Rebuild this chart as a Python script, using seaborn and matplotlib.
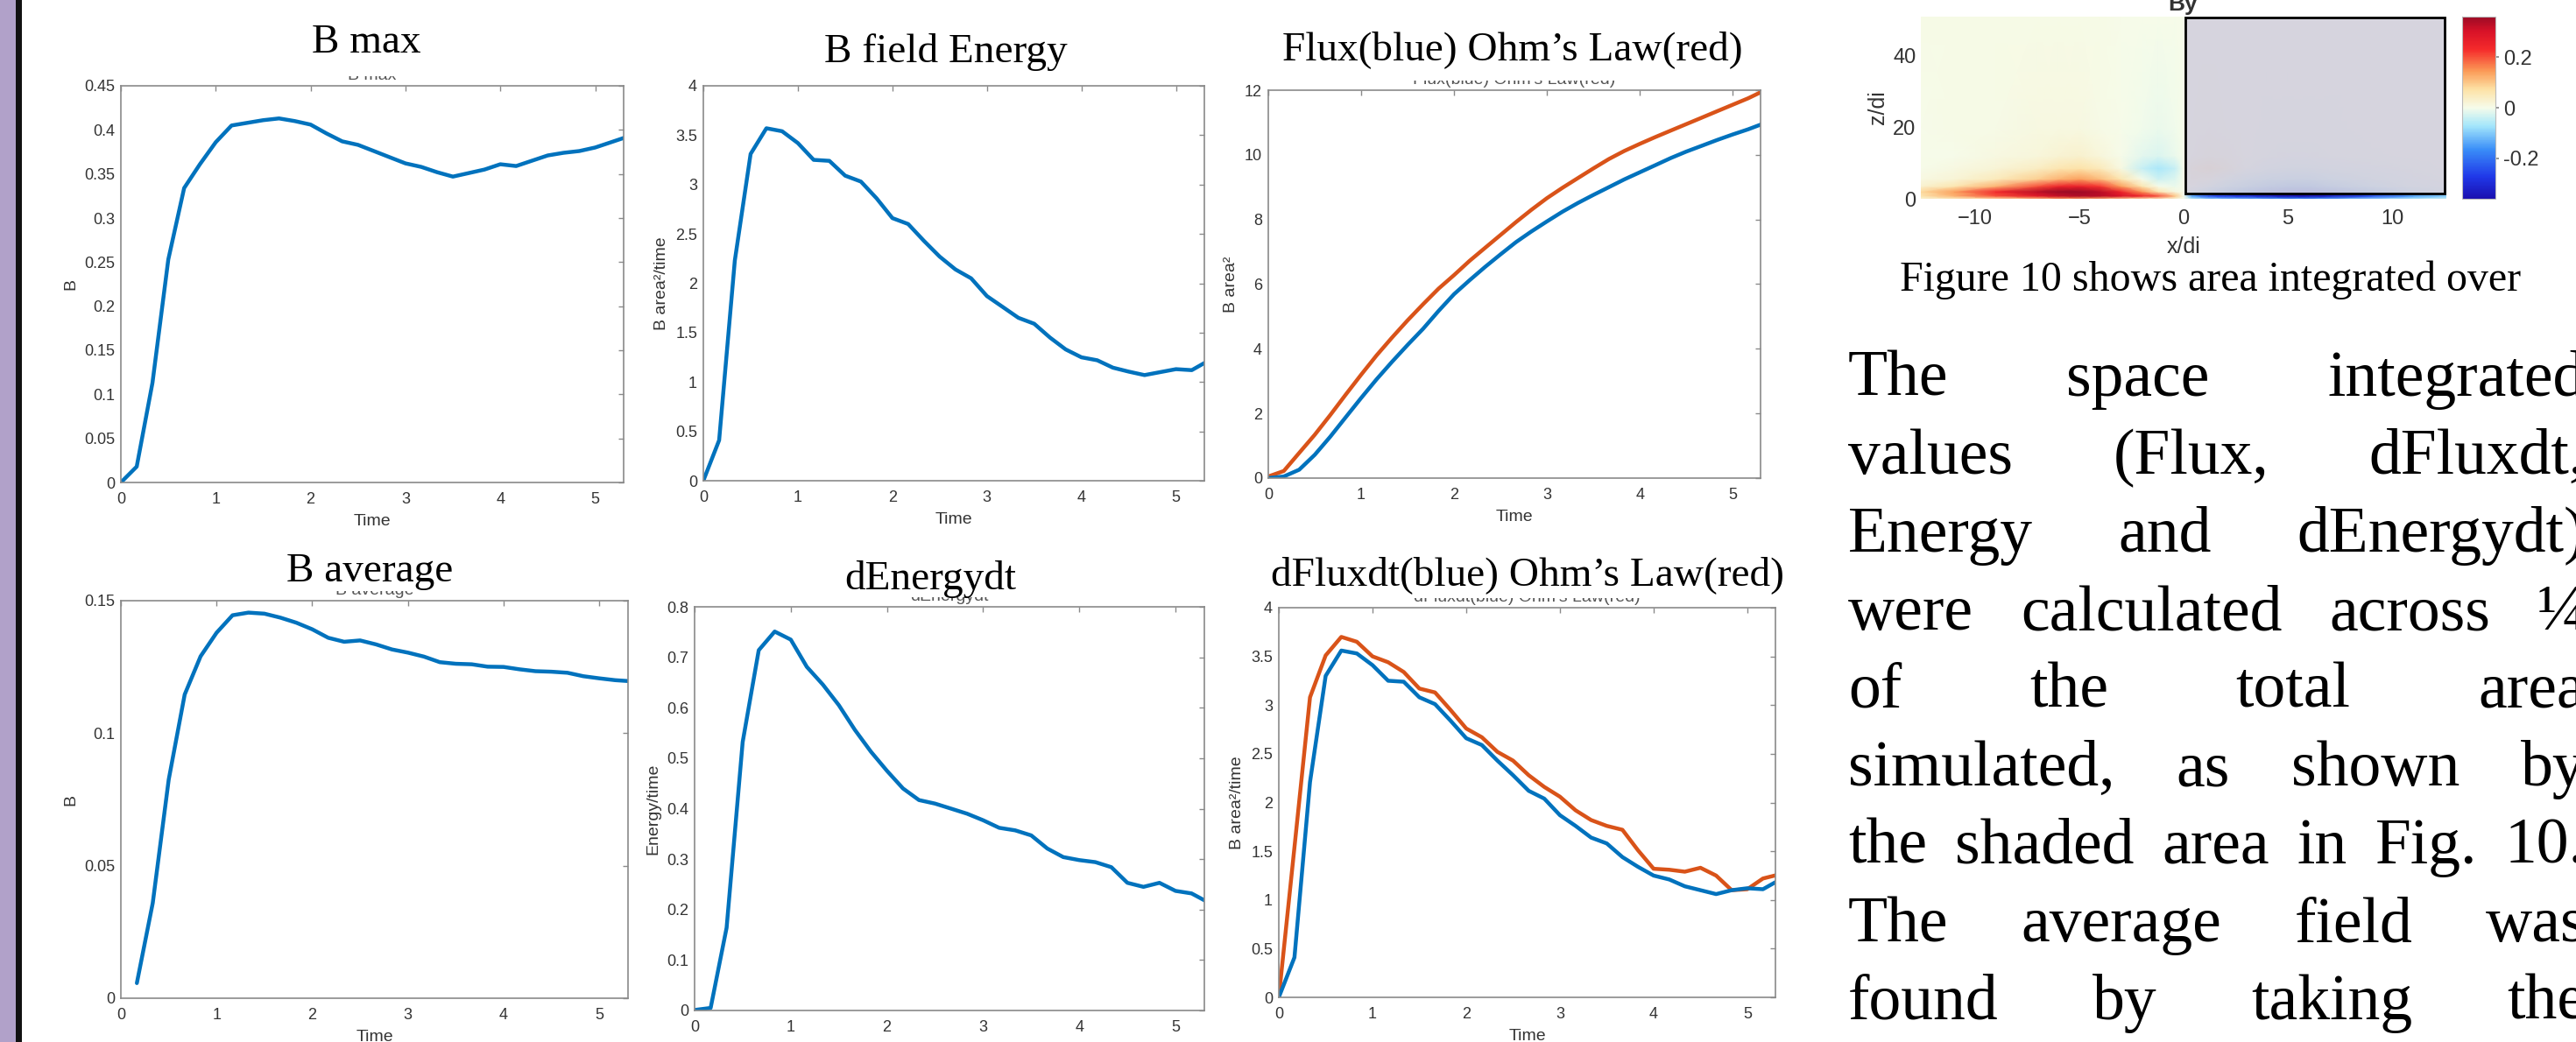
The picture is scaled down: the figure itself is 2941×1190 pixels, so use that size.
import numpy as np
import matplotlib
matplotlib.use("Agg")
import matplotlib.pyplot as plt
import seaborn as sns
from matplotlib.colors import LinearSegmentedColormap
from matplotlib.patches import Rectangle
from matplotlib.ticker import FuncFormatter
from matplotlib.transforms import Bbox, TransformedBbox

W, H, DPI = 2941, 1190, 100

# ─── Time series (sampled every 1/6 time unit) ───────────────────────────────
time = [0.0, 0.167, 0.333, 0.5, 0.667, 0.833, 1.0, 1.167, 1.333, 1.5, 1.667,
        1.833, 2.0, 2.167, 2.333, 2.5, 2.667, 2.833, 3.0, 3.167, 3.333, 3.5,
        3.667, 3.833, 4.0, 4.167, 4.333, 4.5, 4.667, 4.833, 5.0, 5.167, 5.333]

b_max = [0.0, 0.018, 0.113, 0.253, 0.334, 0.361, 0.386, 0.405, 0.408, 0.411,
         0.413, 0.410, 0.406, 0.396, 0.387, 0.383, 0.376, 0.369, 0.362, 0.358,
         0.352, 0.347, 0.351, 0.355, 0.361, 0.359, 0.365, 0.371, 0.374, 0.376,
         0.380, 0.386, 0.392]

b_energy = [0.0, 0.41, 2.23, 3.31, 3.57, 3.54, 3.42, 3.25, 3.24, 3.09, 3.03,
            2.86, 2.66, 2.60, 2.43, 2.27, 2.14, 2.05, 1.87, 1.76, 1.65, 1.59,
            1.45, 1.33, 1.25, 1.22, 1.145, 1.105, 1.07, 1.10, 1.13, 1.12, 1.21]

flux_blue = [0.0, 0.05, 0.26, 0.72, 1.28, 1.88, 2.48, 3.06, 3.60, 4.12, 4.62,
             5.17, 5.69, 6.12, 6.53, 6.92, 7.30, 7.63, 7.94, 8.24, 8.51, 8.76,
             9.00, 9.24, 9.46, 9.68, 9.90, 10.10, 10.28, 10.46, 10.63, 10.79,
             10.97]

flux_red = [0.05, 0.22, 0.78, 1.34, 1.95, 2.58, 3.20, 3.80, 4.35, 4.88, 5.38,
            5.86, 6.28, 6.72, 7.12, 7.52, 7.92, 8.30, 8.66, 8.98, 9.28, 9.58,
            9.87, 10.12, 10.34, 10.55, 10.75, 10.95, 11.15, 11.35, 11.55, 11.75,
            11.98]

b_avg = [np.nan, 0.0057, 0.0359, 0.0825, 0.1146, 0.129, 0.1379, 0.1445, 0.1455,
         0.1451, 0.1436, 0.1417, 0.1392, 0.136, 0.1345, 0.135, 0.1335, 0.1316,
         0.1304, 0.1289, 0.1268, 0.1262, 0.126, 0.1251, 0.125, 0.1241, 0.1234,
         0.1232, 0.1228, 0.1215, 0.1207, 0.120, 0.1196]

d_energy = [0.001, 0.005, 0.164, 0.532, 0.714, 0.751, 0.735, 0.681, 0.646,
            0.605, 0.556, 0.513, 0.475, 0.44, 0.417, 0.41, 0.40, 0.39, 0.377,
            0.362, 0.357, 0.347, 0.321, 0.304, 0.298, 0.294, 0.284, 0.253,
            0.245, 0.253, 0.237, 0.232, 0.215]

dflux_blue = [0.0, 0.41, 2.21, 3.30, 3.56, 3.53, 3.41, 3.25, 3.24, 3.08, 3.01,
              2.84, 2.66, 2.59, 2.43, 2.28, 2.12, 2.04, 1.87, 1.76, 1.64, 1.58,
              1.44, 1.34, 1.25, 1.21, 1.14, 1.10, 1.06, 1.10, 1.12, 1.11, 1.20]

dflux_red = [0.0, 1.54, 3.08, 3.51, 3.70, 3.65, 3.50, 3.44, 3.34, 3.17, 3.13,
             2.95, 2.76, 2.67, 2.52, 2.43, 2.28, 2.16, 2.06, 1.92, 1.82, 1.76,
             1.72, 1.51, 1.32, 1.31, 1.29, 1.33, 1.25, 1.10, 1.11, 1.22, 1.26]

x_ticks = [0, 1, 2, 3, 4, 5]
yticks_bmax = [0, 0.05, 0.1, 0.15, 0.2, 0.25, 0.3, 0.35, 0.4, 0.45]
yticks_energy = [0, 0.5, 1, 1.5, 2, 2.5, 3, 3.5, 4]
yticks_flux = [0, 2, 4, 6, 8, 10, 12]
yticks_bavg = [0, 0.05, 0.1, 0.15]
yticks_denergy = [0, 0.1, 0.2, 0.3, 0.4, 0.5, 0.6, 0.7, 0.8]

# ─── By field snapshot, coarse grid ──────────────────────────────────────────
hm_x = [-12.6, -11, -9, -7, -6, -5, -4, -3, -2, -1.2, -0.4, 0,
        0.4, 1.2, 2, 3, 4, 5, 6, 7, 9, 11, 12.6]
hm_z = [0, 0.8, 2, 3.5, 5.5, 8.5, 12, 20, 51]
hm_by = [
    [0.03, 0.05, 0.08, 0.12, 0.15, 0.15, 0.13, 0.10, 0.07, 0.05, 0.02, 0.0,
     -0.05, -0.10, -0.12, -0.13, -0.15, -0.17, -0.17, -0.15, -0.10, -0.06, -0.04],
    [0.06, 0.12, 0.20, 0.28, 0.32, 0.34, 0.33, 0.30, 0.25, 0.20, 0.10, 0.0,
     -0.15, -0.25, -0.28, -0.30, -0.33, -0.36, -0.36, -0.33, -0.25, -0.15, -0.10],
    [0.08, 0.14, 0.24, 0.33, 0.36, 0.36, 0.33, 0.25, 0.15, 0.06, 0.01, 0.0,
     -0.03, -0.08, -0.12, -0.16, -0.20, -0.24, -0.24, -0.20, -0.13, -0.07, -0.04],
    [0.03, 0.06, 0.12, 0.20, 0.25, 0.26, 0.22, 0.14, 0.06, 0.0, -0.01, 0.0,
     0.0, -0.03, -0.07, -0.10, -0.13, -0.15, -0.15, -0.12, -0.07, -0.03, -0.02],
    [0.01, 0.02, 0.05, 0.09, 0.12, 0.14, 0.11, 0.06, 0.0, -0.035, -0.02, 0.0,
     0.03, 0.02, -0.03, -0.06, -0.08, -0.09, -0.09, -0.07, -0.04, -0.02, -0.01],
    [0.0, 0.01, 0.02, 0.04, 0.06, 0.07, 0.05, 0.01, -0.04, -0.065, -0.04, 0.0,
     0.05, 0.08, 0.05, -0.01, -0.03, -0.04, -0.04, -0.03, -0.02, -0.01, 0.0],
    [0.0, 0.0, 0.01, 0.015, 0.025, 0.03, 0.015, 0.0, -0.015, -0.025, -0.01, 0.0,
     0.01, 0.03, 0.02, 0.0, -0.01, -0.015, -0.015, -0.01, -0.005, 0.0, 0.0],
    [0.0, 0.005, 0.005, 0.01, 0.01, 0.01, 0.005, 0.0, -0.005, -0.01, -0.005, 0.0,
     0.005, 0.01, 0.005, 0.0, -0.005, -0.005, -0.005, -0.005, 0.0, 0.0, 0.0],
    [0.005, 0.005, 0.005, 0.005, 0.005, 0.005, 0.005, 0.0, 0.0, 0.0, 0.0, 0.0,
     0.0, 0.0, 0.0, 0.0, 0.0, 0.0, 0.0, 0.0, 0.0, 0.0, 0.0],
]
hm_xticks = [-10, -5, 0, 5, 10]
hm_zticks = [0, 20, 40]
cbar_ticks = [-0.2, 0, 0.2]

body_lines = [
    "The space integrated",
    "values (Flux, dFluxdt,",
    "Energy and dEnergydt)",
    "were calculated across \u00bc",
    "of the total area",
    "simulated, as shown by",
    "the shaded area in Fig. 10.",
    "The average field was",
    "found by taking the",
]

# ─── Style ───────────────────────────────────────────────────────────────────
sns.set_theme(style="white")
plt.rcParams["font.family"] = ["Liberation Sans", "DejaVu Sans"]
SERIF = ["Liberation Serif", "DejaVu Serif"]
BLUE, RED = "#0072BD", "#D95319"
FRAME, INK = "#8a8a8a", "#333333"

fig = plt.figure(figsize=(W / DPI, H / DPI), dpi=DPI)
fig.patch.set_facecolor("white")


def px_axes(left, top, right, bottom):
    return fig.add_axes([left / W, 1 - bottom / H, (right - left) / W, (bottom - top) / H])


def fig_text(x, y, s, **kw):
    return fig.text(x / W, 1 - y / H, s, **kw)


fmt_g = FuncFormatter(lambda v, _: f"{v:g}")

panels = [
    # big title, (cx, baseline), axes rect, ylabel, yticks, series, small matlab title
    ("B max", (418, 60), (138, 98, 712, 551), "B", yticks_bmax,
     [(b_max, BLUE)], "B max"),
    ("B field Energy", (1080, 71), (803, 98, 1375, 549), "B area\u00b2/time", yticks_energy,
     [(b_energy, BLUE)], None),
    ("Flux(blue) Ohm\u2019s Law(red)", (1727, 68), (1448, 103, 2010, 546), "B area\u00b2", yticks_flux,
     [(flux_red, RED), (flux_blue, BLUE)], "Flux(blue) Ohm's Law(red)"),
    ("B average", (422, 664), (138, 686, 717, 1140), "B", yticks_bavg,
     [(b_avg, BLUE)], "B average"),
    ("dEnergydt", (1062, 673), (793, 693, 1375, 1154), "Energy/time", yticks_denergy,
     [(d_energy, BLUE)], "dEnergydt"),
    ("dFluxdt(blue) Ohm\u2019s Law(red)", (1744, 668), (1460, 694, 2027, 1139), "B area\u00b2/time", yticks_energy,
     [(dflux_red, RED), (dflux_blue, BLUE)], "dFluxdt(blue) Ohm's Law(red)"),
]

for title, (cx, base), rect, ylabel, yticks, series, small in panels:
    ax = px_axes(*rect)
    for values, color in series:
        sns.lineplot(x=time, y=values, ax=ax, color=color, linewidth=3.2,
                     estimator=None, sort=False)
    ax.set_xlim(0, 5.3)
    ax.set_ylim(yticks[0], yticks[-1])
    ax.set_xticks(x_ticks)
    ax.set_yticks(yticks)
    ax.xaxis.set_major_formatter(fmt_g)
    ax.yaxis.set_major_formatter(fmt_g)
    ax.tick_params(direction="in", top=True, right=True, length=4.5, width=1.0,
                   color=FRAME, labelcolor=INK, labelsize=13)
    ax.tick_params(axis="x", pad=8)
    ax.tick_params(axis="y", pad=5)
    for sp in ax.spines.values():
        sp.set_visible(True)
        sp.set_color(FRAME)
        sp.set_linewidth(1.2)
    ax.set_xlabel("Time", fontsize=14, color=INK, labelpad=6)
    ax.set_ylabel(ylabel, fontsize=14, color=INK, labelpad=5)
    ax.grid(False)

    # the original MATLAB title: only a sliver peeks out under the poster title
    if small:
        ax_cx = (rect[0] + rect[2]) / 2
        sb = rect[1] - 7
        st = fig_text(ax_cx, sb, small, ha="center", va="baseline", fontsize=14,
                      color="#555555")
        sliver = Bbox.from_extents((ax_cx - 200) / W, 1 - (sb + 5) / H,
                                   (ax_cx + 200) / W, 1 - (sb - 4) / H)
        st.set_clip_box(TransformedBbox(sliver, fig.transFigure))
        st.set_clip_on(True)
    fig_text(cx, base, title, ha="center", va="baseline", family=SERIF,
             fontsize=34, color="black", zorder=3)

# ─── By snapshot with shaded integration region ──────────────────────────────
cmap = LinearSegmentedColormap.from_list("by", [
    (0.0, "#1a10b0"), (0.12, "#2038e8"), (0.27, "#3a8ef8"), (0.40, "#a4e6fb"),
    (0.5, "#f6fcea"), (0.60, "#fde2a6"), (0.70, "#fb9c58"), (0.82, "#f52b2b"),
    (0.92, "#d81228"), (1.0, "#9c0b25")])

ax_hm = px_axes(2193, 19, 2793, 227)
mesh = ax_hm.pcolormesh(hm_x, hm_z, np.array(hm_by), shading="gouraud",
                        cmap=cmap, vmin=-0.36, vmax=0.36)
ax_hm.add_patch(Rectangle((0.1, 1.5), 12.4, 49.2, facecolor="#d2cfdd",
                          alpha=0.88, edgecolor="none", zorder=3))
ax_hm.add_patch(Rectangle((0.1, 1.5), 12.4, 49.2, facecolor="none",
                          edgecolor="black", linewidth=2.0, zorder=4))
ax_hm.set_xlim(-12.6, 12.6)
ax_hm.set_ylim(0, 51)
ax_hm.set_xticks(hm_xticks)
ax_hm.set_yticks(hm_zticks)
ax_hm.tick_params(length=0, labelsize=17, labelcolor=INK)
ax_hm.tick_params(axis="x", pad=9)
ax_hm.tick_params(axis="y", pad=4)
for sp in ax_hm.spines.values():
    sp.set_visible(False)
ax_hm.set_xlabel("x/di", fontsize=18, color=INK, labelpad=6)
ax_hm.set_ylabel("z/di", fontsize=18, color=INK, labelpad=4)
fig_text(2492, 12, "By", ha="center", va="baseline", fontsize=19,
         fontweight="bold", color=INK)

cax = px_axes(2811, 19, 2849, 227)
cb = fig.colorbar(mesh, cax=cax, ticks=cbar_ticks)
cb.ax.yaxis.set_major_formatter(fmt_g)
cb.ax.tick_params(labelsize=17, labelcolor=INK, length=3, color=FRAME)
cb.outline.set_edgecolor("#bbbbbb")
cb.outline.set_linewidth(0.8)

fig_text(2524, 332, "Figure 10 shows area integrated over", ha="center",
         va="baseline", family=SERIF, fontsize=34.5, color="black")

# ─── Justified body text ─────────────────────────────────────────────────────
renderer = fig.canvas.get_renderer()
x_left, x_right = 2110, 2952
for i, line in enumerate(body_lines):
    words = line.split()
    base = 452 + 89 * i
    texts = [fig_text(0, base, w, va="baseline", family=SERIF, fontsize=53,
                      color="black") for w in words]
    widths = [t.get_window_extent(renderer).width for t in texts]
    gap = (x_right - x_left - sum(widths)) / max(len(words) - 1, 1)
    x = x_left
    for t, wd in zip(texts, widths):
        t.set_x(x / W)
        x += wd + gap

# ─── Poster border on the left ───────────────────────────────────────────────
fig.patches.append(Rectangle((0, 0), 18 / W, 1, transform=fig.transFigure,
                             facecolor="#b1a1c9", edgecolor="none"))
fig.patches.append(Rectangle((18 / W, 0), 7 / W, 1, transform=fig.transFigure,
                             facecolor="#111111", edgecolor="none"))

fig.savefig("out.png", dpi=DPI)
plt.close(fig)
